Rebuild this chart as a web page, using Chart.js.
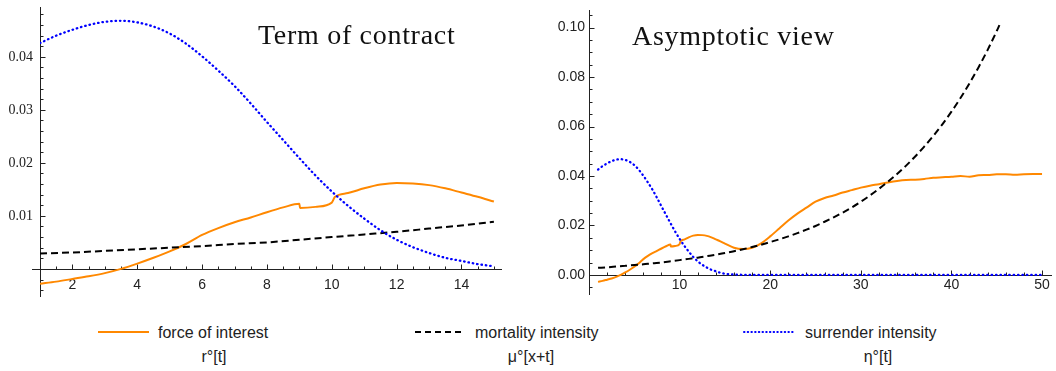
<!DOCTYPE html>
<html>
<head>
<meta charset="utf-8">
<script src="https://cdn.jsdelivr.net/npm/chart.js@4.4.1/dist/chart.umd.min.js"></script>
<style>
  body { margin: 0; background: #fff; width: 1056px; height: 371px; position: relative; overflow: hidden;
         font-family: "Liberation Sans", Arial, sans-serif; color: #222; }
  #termChart { position: absolute; left: 0; top: 0; }
  #asymChart { position: absolute; left: 530px; top: 0; }
  .title { position: absolute; font-family: "Liberation Serif", serif; font-size: 28px; letter-spacing: 0.7px;
           color: #111; line-height: 1; white-space: nowrap; }
  .key { position: absolute; font-size: 16px; line-height: 1; white-space: nowrap; }
  .sub { position: absolute; font-size: 16px; line-height: 1; white-space: nowrap; transform: translateX(-50%); }
  .swatch { position: absolute; }
</style>
</head>
<body>
<canvas id="termChart" width="530" height="300"></canvas>
<canvas id="asymChart" width="526" height="300"></canvas>
<div class="title" style="left:258px;top:21px">Term of contract</div>
<div class="title" style="left:632px;top:22px">Asymptotic view</div>

<svg class="swatch" style="left:98px;top:327px" width="52" height="10"><line x1="0" y1="5" x2="51" y2="5" stroke="#ff8800" stroke-width="2"/></svg>
<div class="key" style="left:158px;top:325px">force of interest</div>
<div class="sub" style="left:214px;top:349px">r°[t]</div>

<svg class="swatch" style="left:415px;top:327px" width="52" height="10"><line x1="0" y1="5" x2="50" y2="5" stroke="#000" stroke-width="2" stroke-dasharray="6 4"/></svg>
<div class="key" style="left:475px;top:325px">mortality intensity</div>
<div class="sub" style="left:531px;top:349px">μ°[x+t]</div>

<svg class="swatch" style="left:743px;top:327px" width="54" height="10"><line x1="1" y1="5" x2="52" y2="5" stroke="#0000ff" stroke-width="2" stroke-linecap="round" stroke-dasharray="0.5 3.2"/></svg>
<div class="key" style="left:805px;top:325px">surrender intensity</div>
<div class="sub" style="left:878px;top:349px">η°[t]</div>

<script>
// ---- data ----
// term of contract, t = 1..15
const interestT = [1, 1.5, 2, 2.5, 3, 3.5, 4, 4.5, 5, 5.5, 6, 6.5, 7, 7.5, 8, 8.5, 9, 9.02, 9.5, 10, 10.1, 10.5, 11, 11.5, 12, 12.5, 13, 13.5, 14, 14.5, 15];
const interestTerm = [-0.0028, -0.0024, -0.0019, -0.0014, -0.0008, 0.0000, 0.0010, 0.0021, 0.0033, 0.0047, 0.0064, 0.0077, 0.0088, 0.0097, 0.0107, 0.0116, 0.0123, 0.0115, 0.0117, 0.0125, 0.0136, 0.0143, 0.0152, 0.0159, 0.0162, 0.0161, 0.0158, 0.0152, 0.0144, 0.0136, 0.0127];

const surrenderT = [1, 1.5, 2, 2.5, 3, 3.5, 4, 4.5, 5, 5.5, 6, 6.5, 7, 7.5, 8, 8.5, 9, 9.5, 10, 10.5, 11, 11.5, 12, 12.5, 13, 13.5, 14, 14.5, 15];
const surrenderTerm = [0.0426, 0.0440, 0.0451, 0.0460, 0.0466, 0.0468, 0.0465, 0.0457, 0.0444, 0.0425, 0.0401, 0.0374, 0.0345, 0.0312, 0.0277, 0.0243, 0.0209, 0.0176, 0.0146, 0.0119, 0.0095, 0.0073, 0.0055, 0.0041, 0.0030, 0.0021, 0.0015, 0.0009, 0.0005];

const mortalityT = [1, 2, 3, 4, 5, 6, 7, 8, 9, 10, 11, 12, 13, 14, 15];
const mortalityTerm = [0.0029, 0.0031, 0.0034, 0.0037, 0.0040, 0.0043, 0.0047, 0.0050, 0.0055, 0.0060, 0.0065, 0.0070, 0.0076, 0.0082, 0.0089];

// asymptotic view continues the same curves past t = 15
const interestTailT = [16, 17, 18, 19, 20, 21, 22, 23, 24, 25, 26, 27, 28, 29, 30, 31, 32, 33, 34, 35, 36, 37, 38, 39, 40, 41, 42, 43, 44, 45, 46, 47, 48, 49, 50];
const interestTail = [0.0110, 0.0105, 0.0110, 0.0128, 0.0156, 0.0188, 0.0220, 0.0248, 0.0272, 0.0296, 0.0311, 0.0321, 0.0333, 0.0343, 0.0353, 0.0361, 0.0367, 0.0374, 0.0380, 0.0384, 0.0385, 0.0388, 0.0393, 0.0395, 0.0397, 0.0400, 0.0397, 0.0403, 0.0404, 0.0407, 0.0407, 0.0405, 0.0407, 0.0408, 0.0408];

const mortalityTailT = [16, 17, 18, 19, 20, 21, 22, 23, 24, 25, 26, 27, 28, 29, 30, 31, 32, 33, 34, 35, 36, 37, 38, 39, 40, 41, 42, 43, 44, 45, 45.3];
const mortalityTail = [0.0096, 0.0104, 0.0113, 0.0122, 0.0133, 0.0144, 0.0156, 0.0169, 0.0183, 0.0198, 0.0215, 0.0233, 0.0252, 0.0273, 0.0296, 0.0321, 0.0348, 0.0377, 0.0408, 0.0442, 0.0479, 0.0519, 0.0562, 0.0609, 0.0660, 0.0715, 0.0775, 0.0840, 0.0910, 0.0986, 0.1010];

const surrenderTailT = [16, 17, 18, 50];
const surrenderTail = [0.0002, 0.00005, 0, 0];

// tick labels
const termXTicks = [2, 4, 6, 8, 10, 12, 14];
const termYTicks = [0.01, 0.02, 0.03, 0.04];
const asymXTicks = [10, 20, 30, 40, 50];
const asymYTicks = [0.00, 0.02, 0.04, 0.06, 0.08, 0.10];

const pts = (xs, ys) => xs.map((x, i) => ({ x: x, y: ys[i] }));

// mathematica-like axes: lines through the origin with inward ticks
const mathAxes = {
  id: 'mathAxes',
  beforeDatasetsDraw(chart, args, opts) {
    const { ctx, chartArea: a, scales: { x, y } } = chart;
    const y0 = Math.round(y.getPixelForValue(0)) + 0.5;
    const x0 = Math.round(a.left) + 0.5;
    ctx.save();
    ctx.strokeStyle = '#222';
    ctx.lineWidth = 1;
    ctx.beginPath();
    ctx.moveTo(a.left - opts.overhang, y0);
    ctx.lineTo(a.right, y0);
    ctx.moveTo(x0, a.top);
    ctx.lineTo(x0, a.bottom);
    // x ticks
    const nx0 = Math.ceil(x.min / opts.xMinor + 1e-9), nx1 = Math.floor(x.max / opts.xMinor + 1e-9);
    for (let k = nx0; k <= nx1; k++) {
      const v = k * opts.xMinor;
      if (Math.abs(v - x.min) < 1e-9) continue;
      const major = Math.abs(v / opts.xMajor - Math.round(v / opts.xMajor)) < 1e-6;
      const px = Math.round(x.getPixelForValue(v)) + 0.5;
      ctx.moveTo(px, y0);
      ctx.lineTo(px, y0 - (major ? 5 : 3));
    }
    // y ticks
    const ny0 = Math.ceil(y.min / opts.yMinor + 1e-9), ny1 = Math.floor(y.max / opts.yMinor + 1e-9);
    for (let k = ny0; k <= ny1; k++) {
      const v = k * opts.yMinor;
      if (k === 0) continue;
      const major = Math.abs(v / opts.yMajor - Math.round(v / opts.yMajor)) < 1e-6;
      const py = Math.round(y.getPixelForValue(v)) + 0.5;
      ctx.moveTo(x0, py);
      ctx.lineTo(x0 + (major ? 5 : 3), py);
    }
    ctx.stroke();
    ctx.restore();
  }
};

const lineStyles = {
  interest: { borderColor: '#ff8800', borderWidth: 2, cubicInterpolationMode: 'monotone' },
  mortality: { borderColor: '#000000', borderWidth: 2, borderDash: [7, 4], cubicInterpolationMode: 'monotone' },
  surrender: { borderColor: '#0000ff', borderWidth: 2.3, borderDash: [0.5, 3.9], borderCapStyle: 'round', cubicInterpolationMode: 'monotone' }
};

function makeChart(id, cfg) {
  return new Chart(document.getElementById(id), {
    type: 'line',
    data: {
      datasets: [
        Object.assign({ label: 'surrender intensity', data: cfg.surrender }, lineStyles.surrender),
        Object.assign({ label: 'mortality intensity', data: cfg.mortality }, lineStyles.mortality),
        Object.assign({ label: 'force of interest', data: cfg.interest }, lineStyles.interest)
      ]
    },
    options: {
      responsive: false,
      animation: false,
      events: [],
      layout: { padding: cfg.padding },
      elements: { point: { radius: 0 } },
      plugins: {
        legend: { display: false },
        tooltip: { enabled: false },
        mathAxes: cfg.axes
      },
      scales: {
        x: {
          type: 'linear',
          position: { y: 0 },
          min: cfg.xMin, max: cfg.xMax,
          border: { display: false },
          grid: { display: false, drawTicks: false },
          afterFit: s => { s.height = 0; s.paddingLeft = 0; s.paddingRight = 0; },
          afterBuildTicks: s => { s.ticks = cfg.xTicks.map(v => ({ value: v })); },
          ticks: { autoSkip: false, maxRotation: 0, padding: cfg.xPad, color: '#222',
                   font: { family: 'Liberation Sans', size: 14 }, callback: v => String(v) }
        },
        y: {
          type: 'linear',
          min: cfg.yMin, max: cfg.yMax,
          border: { display: false },
          grid: { display: false, drawTicks: false },
          afterFit: s => { s.width = cfg.yWidth; s.paddingTop = 0; s.paddingBottom = 0; },
          afterBuildTicks: s => { s.ticks = cfg.yTicks.map(v => ({ value: v })); },
          ticks: { autoSkip: false, padding: cfg.yPad, color: '#222',
                   font: { family: cfg.yFont, size: 14 }, callback: v => v.toFixed(2) }
        }
      }
    },
    plugins: [mathAxes]
  });
}

makeChart('termChart', {
  interest: pts(interestT, interestTerm),
  mortality: pts(mortalityT, mortalityTerm),
  surrender: pts(surrenderT, surrenderTerm),
  padding: { left: 0, top: 7, right: 28, bottom: 3 },
  xMin: 1, xMax: 15.25, yMin: -0.0053, yMax: 0.0494,
  xTicks: termXTicks, yTicks: termYTicks,
  xPad: 8, yPad: 7, yWidth: 40, yFont: 'Liberation Serif',
  axes: { overhang: 8, xMinor: 0.5, xMajor: 2, yMinor: 0.002, yMajor: 0.01 }
});

makeChart('asymChart', {
  interest: pts(interestT.concat(interestTailT), interestTerm.concat(interestTail)),
  mortality: pts(mortalityT.concat(mortalityTailT), mortalityTerm.concat(mortalityTail)),
  surrender: pts(surrenderT.concat(surrenderTailT), surrenderTerm.concat(surrenderTail)),
  padding: { left: 0, top: 10, right: 4, bottom: 5 },
  xMin: 0, xMax: 51.1, yMin: -0.0081, yMax: 0.1071,
  xTicks: asymXTicks, yTicks: asymYTicks,
  xPad: 2, yPad: 4, yWidth: 59, yFont: 'Liberation Sans',
  axes: { overhang: 0, xMinor: 2, xMajor: 10, yMinor: 0.005, yMajor: 0.02 }
});
</script>
</body>
</html>
